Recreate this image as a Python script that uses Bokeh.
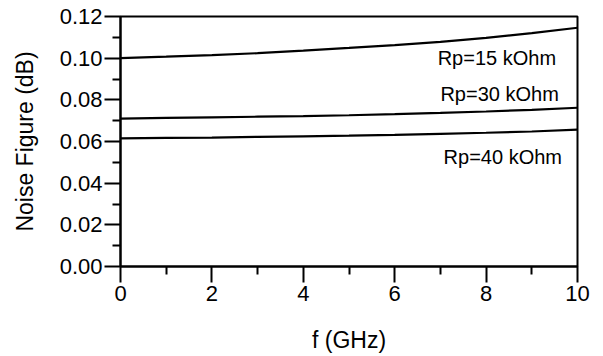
from bokeh.plotting import figure
from bokeh.models import Range1d, FixedTicker, NumeralTickFormatter
from bokeh.core.properties import value
from bokeh.embed import file_html
from bokeh.resources import INLINE

# Data
freq = [0, 1, 2, 3, 4, 5, 6, 7, 8, 9, 10]
nf_rp15 = [0.1000, 0.1007, 0.1015, 0.1024, 0.1036, 0.1049, 0.1063, 0.1078, 0.1097, 0.1120, 0.1146]
nf_rp30 = [0.0710, 0.0713, 0.0716, 0.0719, 0.0722, 0.0726, 0.0731, 0.0737, 0.0744, 0.0752, 0.0762]
nf_rp40 = [0.0615, 0.0617, 0.0619, 0.0622, 0.0625, 0.0628, 0.0632, 0.0637, 0.0642, 0.0648, 0.0657]

label_texts = ["Rp=15 kOhm", "Rp=30 kOhm", "Rp=40 kOhm"]
label_x = [6.94, 7.0, 7.07]
label_y = [0.1002, 0.0830, 0.0527]

x_major = [0, 2, 4, 6, 8, 10]
x_minor = [1, 3, 5, 7, 9]
y_major = [0.00, 0.02, 0.04, 0.06, 0.08, 0.10, 0.12]
y_minor = [0.01, 0.03, 0.05, 0.07, 0.09, 0.11]

FONT = "Liberation Sans"

p = figure(width=603, height=356, output_backend="svg", toolbar_location=None,
           x_range=Range1d(0, 10), y_range=Range1d(0, 0.12),
           min_border_left=120, min_border_right=26, min_border_top=16, min_border_bottom=90)
p.background_fill_color = "white"
p.border_fill_color = "white"
p.grid.visible = False
p.outline_line_color = "black"
p.outline_line_width = 2
p.outline_line_alpha = 1.0

for ys in (nf_rp15, nf_rp30, nf_rp40):
    p.line(freq, ys, line_color="black", line_width=2.2)

p.text(x=label_x, y=label_y, text=label_texts, text_font=value(FONT),
       text_font_size="20px", text_color="black", text_align="left",
       text_baseline="middle")

p.xaxis.ticker = FixedTicker(ticks=x_major, minor_ticks=x_minor)
p.yaxis.ticker = FixedTicker(ticks=y_major, minor_ticks=y_minor)
p.yaxis.formatter = NumeralTickFormatter(format="0.00")

for ax in (p.xaxis, p.yaxis):
    ax.axis_line_color = "black"
    ax.axis_line_width = 2
    ax.major_tick_line_color = "black"
    ax.major_tick_line_width = 2
    ax.minor_tick_line_color = "black"
    ax.minor_tick_line_width = 2
    ax.major_tick_in = 0
    ax.major_tick_out = 16
    ax.minor_tick_in = 0
    ax.minor_tick_out = 8
    ax.major_label_text_font = FONT
    ax.major_label_text_font_size = "22px"
    ax.major_label_text_color = "black"
    ax.axis_label_text_font = FONT
    ax.axis_label_text_font_size = "23px"
    ax.axis_label_text_font_style = "normal"
    ax.axis_label_text_color = "black"

p.xaxis.axis_label = "f (GHz)"
p.yaxis.axis_label = "Noise Figure (dB)"
p.xaxis.major_label_standoff = 3
p.yaxis.major_label_standoff = 2
p.xaxis.axis_label_standoff = 23
p.yaxis.axis_label_standoff = 19

open("out.html", "w").write(file_html(p, INLINE))
